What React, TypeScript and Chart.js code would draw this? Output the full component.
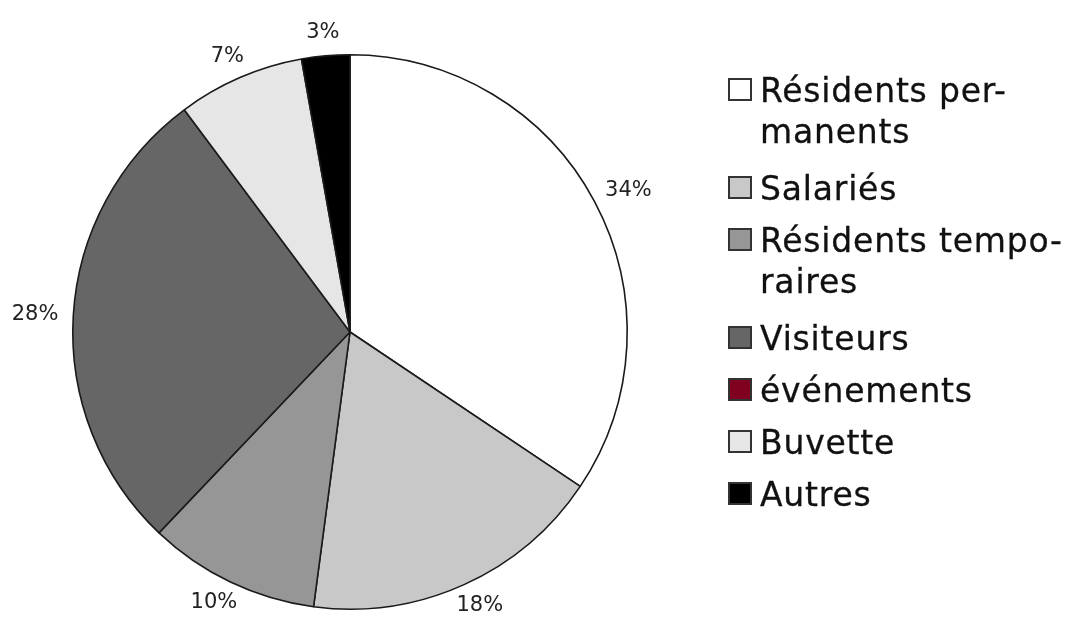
import React, { useEffect, useRef } from "react";
import { Chart, registerables } from "chart.js";

Chart.register(...registerables);

const categories = [
  "Résidents permanents",
  "Salariés",
  "Résidents temporaires",
  "Visiteurs",
  "événements",
  "Buvette",
  "Autres",
];
const legendLines = [
  ["Résidents per-", "manents"],
  ["Salariés"],
  ["Résidents tempo-", "raires"],
  ["Visiteurs"],
  ["événements"],
  ["Buvette"],
  ["Autres"],
];
const shares = [34.4, 17.7, 10.0, 27.7, 0, 7.4, 2.8];
const colors = ["#ffffff", "#c8c8c8", "#969696", "#666666", "#800020", "#e6e6e6", "#000000"];

const labelPlugin = {
  id: "outerLabels",
  afterDatasetsDraw(chart: any) {
    const ctx = chart.ctx as CanvasRenderingContext2D;
    const meta = chart.getDatasetMeta(0);
    const data = chart.data.datasets[0].data as number[];
    const total = data.reduce((a, b) => a + b, 0);
    ctx.save();
    ctx.font = '21px "DejaVu Sans", sans-serif';
    ctx.fillStyle = "#222222";
    ctx.textAlign = "center";
    ctx.textBaseline = "middle";
    meta.data.forEach((arc: any, i: number) => {
      const v = data[i];
      if (!v) return;
      const { x, y, startAngle, endAngle, outerRadius } = arc.getProps(
        ["x", "y", "startAngle", "endAngle", "outerRadius"],
        true
      );
      const mid = (startAngle + endAngle) / 2;
      const dx = Math.cos(mid);
      const dy = Math.sin(mid);
      const text = Math.round((v / total) * 100) + "%";
      const w = ctx.measureText(text).width;
      const h = 16;
      const r = outerRadius + 15;
      const cx = x + dx * r + (dx * w) / 2;
      const cy = y + dy * r + (dy * h) / 2;
      ctx.fillText(text, cx, cy);
    });
    ctx.restore();
  },
};

export default function App() {
  const canvasRef = useRef<HTMLCanvasElement | null>(null);

  useEffect(() => {
    document.body.style.margin = "0";
    const canvas = canvasRef.current;
    if (!canvas) return;
    const chart = new Chart(canvas, {
      type: "pie",
      data: {
        labels: categories,
        datasets: [
          {
            data: shares,
            backgroundColor: colors,
            borderColor: "#1a1a1a",
            borderWidth: 1.6,
          },
        ],
      },
      options: {
        animation: false,
        responsive: false,
        maintainAspectRatio: false,
        layout: { padding: { left: 72, right: 438, top: 54, bottom: 11 } },
        plugins: {
          legend: { display: false },
          tooltip: { enabled: false },
        },
      },
      plugins: [labelPlugin],
    });
    return () => chart.destroy();
  }, []);

  return (
    <div style={{ position: "fixed", left: 0, top: 0, width: 1066, height: 621, background: "#ffffff" }}>
      <canvas ref={canvasRef} width={1066} height={621} style={{ position: "absolute", left: 0, top: 0 }} />
      <div
        style={{
          position: "absolute",
          left: 728,
          top: 70,
          fontFamily: '"DejaVu Sans", sans-serif',
          fontSize: 33,
          letterSpacing: "0.8px",
          color: "#111111",
          WebkitTextStroke: "0.3px #111111",
        }}
      >
        {legendLines.map((lines, i) => (
          <div
            key={i}
            style={{ display: "flex", alignItems: "flex-start", marginBottom: lines.length > 1 ? 16 : 11 }}
          >
            <div
              style={{
                width: 24,
                height: 23,
                boxSizing: "border-box",
                border: "2px solid #333333",
                background: colors[i],
                marginTop: 8,
                marginRight: 8,
                flex: "0 0 auto",
              }}
            />
            <div>
              {lines.map((ln, j) => (
                <div key={j} style={{ lineHeight: "41px", height: 41, whiteSpace: "nowrap" }}>
                  {ln}
                </div>
              ))}
            </div>
          </div>
        ))}
      </div>
    </div>
  );
}
